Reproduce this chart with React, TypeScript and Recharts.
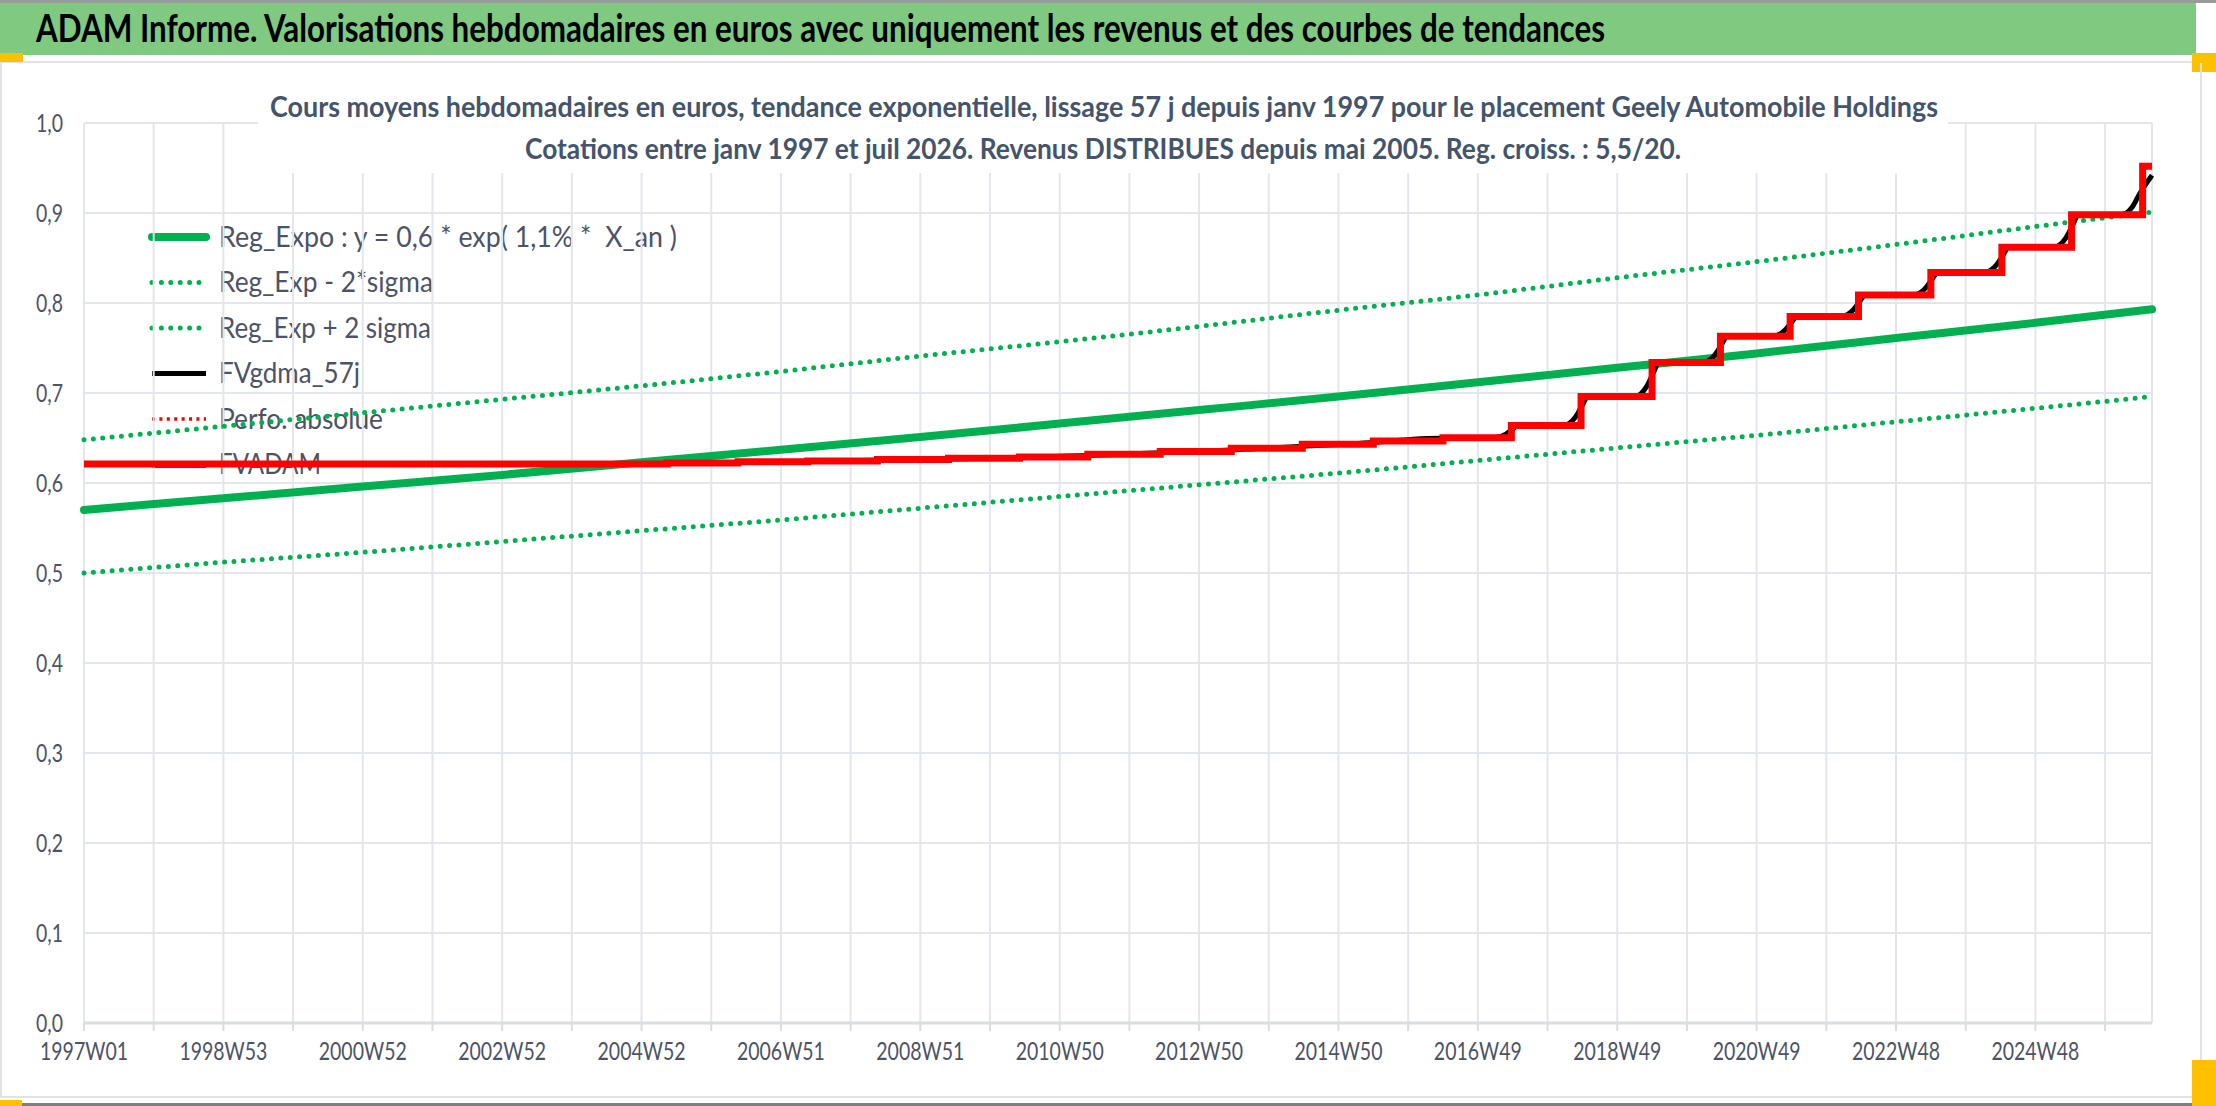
import React from "react"
import { LineChart, Line, XAxis, YAxis, CartesianGrid, Legend } from "recharts"

// x positions are week indexes counted from 1997W01
const seriesNames = [
  "Reg_Expo : y = 0,6 * exp( 1,1% *  X_an )",
  "Reg_Exp - 2*sigma",
  "Reg_Exp + 2 sigma",
  "FVgdma_57j",
  "Perfo. absolue",
  "FVADAM",
]

const regWeeks = [0, 104, 208, 312, 416, 520, 624, 728, 832, 936, 1040, 1144, 1248, 1352, 1456, 1543]
const regExpo = [0.57, 0.583, 0.596, 0.609, 0.623, 0.637, 0.651, 0.666, 0.681, 0.696, 0.712, 0.728, 0.744, 0.761, 0.778, 0.793]
const regMinus2Sigma = [0.5, 0.512, 0.523, 0.535, 0.547, 0.559, 0.572, 0.585, 0.598, 0.611, 0.625, 0.639, 0.653, 0.668, 0.683, 0.696]
const regPlus2Sigma = [0.648, 0.663, 0.678, 0.693, 0.708, 0.724, 0.741, 0.757, 0.774, 0.792, 0.809, 0.828, 0.846, 0.865, 0.885, 0.901]

const fvgdmaWeeks = [
  0, 435, 488, 540, 592, 645, 698, 749, 803, 856, 909, 962, 1002,
  1052, 1061, 1066, 1070,
  1104, 1113, 1118, 1122,
  1157, 1166, 1171, 1175,
  1208, 1217, 1222, 1226,
  1260, 1269, 1274, 1278,
  1311, 1320, 1325, 1329,
  1365, 1374, 1379, 1383,
  1418, 1427, 1432, 1436,
  1470, 1479, 1484, 1488,
  1520, 1528, 1534, 1543,
]
const fvgdmaValues = [
  0.621, 0.6217, 0.6229, 0.624, 0.6253, 0.6268, 0.6283, 0.6305, 0.6335, 0.6368, 0.6408, 0.645, 0.6495,
  0.6503, 0.6544, 0.6599, 0.664,
  0.664, 0.6736, 0.6864, 0.696,
  0.696, 0.7074, 0.7226, 0.734,
  0.734, 0.7427, 0.7543, 0.763,
  0.763, 0.7696, 0.7784, 0.785,
  0.785, 0.7922, 0.8018, 0.809,
  0.809, 0.8165, 0.8265, 0.834,
  0.834, 0.8424, 0.8536, 0.862,
  0.862, 0.8728, 0.8872, 0.898,
  0.898, 0.906, 0.922, 0.942,
]

const fvadamWeeks = [0, 435, 488, 540, 592, 645, 698, 749, 803, 856, 909, 962, 1014, 1065, 1117, 1170, 1221, 1273, 1324, 1378, 1431, 1483, 1536, 1543]
const fvadamValues = [0.621, 0.6223, 0.6235, 0.6245, 0.626, 0.6275, 0.629, 0.632, 0.635, 0.6385, 0.643, 0.6467, 0.6503, 0.664, 0.696, 0.734, 0.763, 0.785, 0.809, 0.834, 0.862, 0.898, 0.952, 0.952]

const xTickWeeks = [0, 52, 104, 156, 208, 260, 312, 364, 416, 468, 520, 572, 624, 676, 728, 780, 832, 884, 936, 988, 1040, 1092, 1144, 1196, 1248, 1300, 1352, 1404, 1456, 1508]
const xTickLabels = ["1997W01", "", "1998W53", "", "2000W52", "", "2002W52", "", "2004W52", "", "2006W51", "", "2008W51", "", "2010W50", "", "2012W50", "", "2014W50", "", "2016W49", "", "2018W49", "", "2020W49", "", "2022W48", "", "2024W48", ""]
const yTicks = [0, 0.1, 0.2, 0.3, 0.4, 0.5, 0.6, 0.7, 0.8, 0.9, 1.0]

const regData = regWeeks.map((week, i) => ({
  week,
  regExpo: regExpo[i],
  regMinus: regMinus2Sigma[i],
  regPlus: regPlus2Sigma[i],
}))
const fvgdmaData = fvgdmaWeeks.map((week, i) => ({ week, fvgdma: fvgdmaValues[i] }))
const fvadamData = fvadamWeeks.map((week, i) => ({ week, fvadam: fvadamValues[i] }))

const FONT = "Lato, 'Noto Sans', sans-serif"
const INK = "#4d5364"
const GREEN = "#00B050"
const RED = "#FF0000"
const DOTS = "0 9.4"

// stroke look per series, same order as seriesNames
const looks = [
  { stroke: GREEN, width: 8, dash: undefined, cap: "round" as const, textW: 458 },
  { stroke: GREEN, width: 5, dash: DOTS, cap: "round" as const, textW: 214 },
  { stroke: GREEN, width: 5, dash: DOTS, cap: "round" as const, textW: 212 },
  { stroke: "#000000", width: 5, dash: undefined, cap: "butt" as const, textW: 141 },
  { stroke: RED, width: 3.5, dash: "3 4.4", cap: "butt" as const, textW: 164 },
  { stroke: RED, width: 7, dash: undefined, cap: "butt" as const, textW: 102 },
]

const XTick = (props: any) => {
  const { x, y, payload } = props
  const label = xTickLabels[xTickWeeks.indexOf(payload.value)]
  if (!label) return <g />
  return (
    <text x={x} y={y + 29} textAnchor="middle" fill={INK} fontSize={25} fontFamily={FONT}
      textLength={88} lengthAdjust="spacingAndGlyphs">
      {label}
    </text>
  )
}

const YTick = (props: any) => {
  const { x, y, payload } = props
  return (
    <text x={x} y={y + 9} textAnchor="end" fill={INK} fontSize={25} fontFamily={FONT}
      textLength={27} lengthAdjust="spacingAndGlyphs">
      {payload.value.toFixed(1).replace(".", ",")}
    </text>
  )
}

const LegendBox = (props: any) => {
  const items: any[] = props.payload ?? []
  return (
    <svg width={720} height={270} style={{ overflow: "visible" }}>
      {seriesNames.map((name, i) => {
        const item = items.find((p) => p.value === name)
        const look = looks[i]
        const cy = 23 + i * 45.5
        return (
          <g key={name}>
            <line x1={16} x2={70} y1={cy} y2={cy} stroke={item?.color ?? look.stroke}
              strokeWidth={look.width} strokeDasharray={look.dash} strokeLinecap={look.cap} />
            <text x={83} y={cy + 9.5} fill={INK} fontSize={28} fontFamily={FONT} style={{ whiteSpace: "pre" }}
              textLength={look.textW} lengthAdjust="spacingAndGlyphs">
              {name}
            </text>
          </g>
        )
      })}
    </svg>
  )
}

const App: React.FC = () => {
  return (
    <div style={{ position: "fixed", left: 0, top: 0, width: 2216, height: 1106, background: "#fff", overflow: "hidden", fontFamily: FONT }}>
      {/* header band */}
      <div style={{ position: "absolute", left: 0, top: 0, width: 2216, height: 3, background: "#9a9a9a" }} />
      <div style={{ position: "absolute", left: 0, top: 3, width: 2196, height: 52, background: "#80C980" }} />
      <div style={{ position: "absolute", left: 0, top: 61, width: 2200, height: 2, background: "#dfe2e7" }} />
      <div style={{ position: "absolute", left: 0, top: 53, width: 23, height: 9, background: "#FFC000" }} />
      <div style={{ position: "absolute", left: 2192, top: 53, width: 24, height: 19, background: "#FFC000" }} />
      <svg style={{ position: "absolute", left: 0, top: 0 }} width={2216} height={60}>
        <text x={36} y={42} fontSize={37.5} fontWeight={700} fontFamily={FONT} fill="#000"
          textLength={1569} lengthAdjust="spacingAndGlyphs">
          ADAM Informe. Valorisations hebdomadaires en euros avec uniquement les revenus et des courbes de tendances
        </text>
      </svg>

      {/* frame */}
      <div style={{ position: "absolute", left: 0, top: 63, width: 2, height: 1034, background: "#dfe2e7" }} />
      <div style={{ position: "absolute", left: 2200, top: 63, width: 2, height: 1034, background: "#dfe2e7" }} />
      <div style={{ position: "absolute", left: 0, top: 1096, width: 2202, height: 2, background: "#dfe2e7" }} />
      <div style={{ position: "absolute", left: 0, top: 1103, width: 2216, height: 3, background: "#7f7f7f" }} />
      <div style={{ position: "absolute", left: 0, top: 1100, width: 22, height: 6, background: "#FFC000" }} />
      <div style={{ position: "absolute", left: 2192, top: 1060, width: 24, height: 46, background: "#FFC000" }} />

      <div style={{ position: "absolute", left: 0, top: 0 }}>
        <LineChart width={2216} height={1106} margin={{ top: 123, right: 64, bottom: 0, left: 24 }}>
          <CartesianGrid stroke="#e3e6ec" strokeWidth={2} />
          <XAxis dataKey="week" type="number" domain={[0, 1543]} ticks={xTickWeeks} interval={0}
            allowDuplicatedCategory={false} height={83} tickSize={8} tickMargin={0}
            axisLine={{ stroke: "#d9dce2", strokeWidth: 3 }} tickLine={{ stroke: "#d9dce2", strokeWidth: 2 }}
            tick={XTick} />
          <YAxis type="number" domain={[0, 1]} ticks={yTicks} interval={0} width={60} tickSize={0} tickMargin={21}
            axisLine={false} tickLine={false} tick={YTick} />
          <Legend layout="vertical" align="center" verticalAlign="middle"
            wrapperStyle={{ left: 136, top: 214, width: 720, height: 270, zIndex: -1 }} content={LegendBox} />
          <Line data={regData} dataKey="regExpo" name={seriesNames[0]} type="monotone" stroke={GREEN} strokeWidth={8}
            strokeLinecap="round" dot={false} activeDot={false} isAnimationActive={false} />
          <Line data={regData} dataKey="regMinus" name={seriesNames[1]} type="monotone" stroke={GREEN} strokeWidth={5}
            strokeDasharray={DOTS} strokeLinecap="round" dot={false} activeDot={false} isAnimationActive={false} />
          <Line data={regData} dataKey="regPlus" name={seriesNames[2]} type="monotone" stroke={GREEN} strokeWidth={5}
            strokeDasharray={DOTS} strokeLinecap="round" dot={false} activeDot={false} isAnimationActive={false} />
          <Line data={fvgdmaData} dataKey="fvgdma" name={seriesNames[3]} type="monotone" stroke="#000000" strokeWidth={5}
            dot={false} activeDot={false} isAnimationActive={false} />
          <Line data={[]} dataKey="perfo" name={seriesNames[4]} stroke={RED} strokeWidth={3.5} strokeDasharray="3 4.4"
            dot={false} activeDot={false} isAnimationActive={false} />
          <Line data={fvadamData} dataKey="fvadam" name={seriesNames[5]} type="stepAfter" stroke={RED} strokeWidth={7}
            dot={false} activeDot={false} isAnimationActive={false} />
        </LineChart>
      </div>

      {/* chart title, white box over the grid */}
      <div style={{ position: "absolute", left: 258, top: 82, width: 1690, height: 91, background: "#fff" }} />
      <svg style={{ position: "absolute", left: 0, top: 0 }} width={2216} height={180}>
        <text x={270} y={117} fontSize={29} fontWeight={700} fontFamily={FONT} fill="#44546A"
          textLength={1668} lengthAdjust="spacingAndGlyphs">
          Cours moyens hebdomadaires en euros, tendance exponentielle, lissage 57 j depuis janv 1997 pour le placement Geely Automobile Holdings
        </text>
        <text x={525} y={159} fontSize={29} fontWeight={700} fontFamily={FONT} fill="#44546A"
          textLength={1156} lengthAdjust="spacingAndGlyphs">
          Cotations entre janv 1997 et juil 2026. Revenus DISTRIBUES depuis mai 2005. Reg. croiss. : 5,5/20.
        </text>
      </svg>
    </div>
  )
}

export default App
